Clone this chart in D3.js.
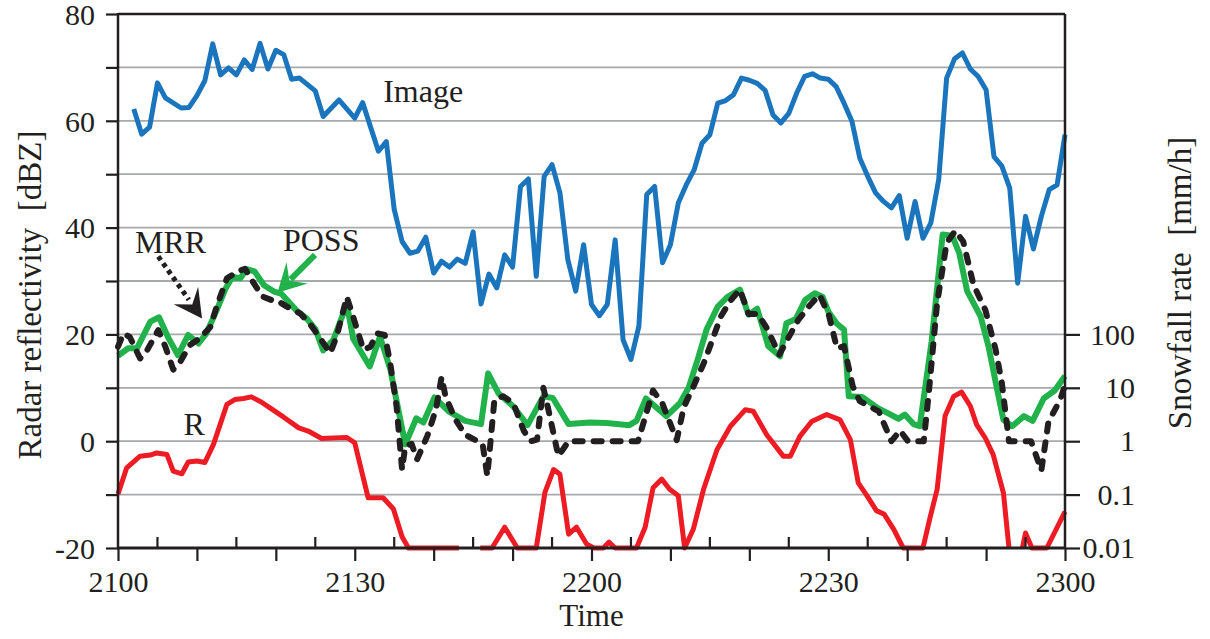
<!DOCTYPE html>
<html>
<head>
<meta charset="utf-8">
<script src="https://cdn.jsdelivr.net/npm/d3@7"></script>
<style>
  body { margin: 0; background: #fff; }
  svg { display: block; }
</style>
</head>
<body>
<svg width="1210" height="639"></svg>
<script>
// minutes after 21:00, dBZ
const imageData = [
  [2,62.2],[3,57.5],[4,58.8],[5,67.1],[6,64.3],[8,62.4],[9,62.5],[10,64.7],[11,67.5],[12,74.4],[13,68.6],[14,69.9],
  [15,68.6],[16,71.4],[17,69.6],[18,74.5],[19,69.7],[20,73.2],[21,72.4],[22,67.8],[23,68.0],[25,65.6],[26,60.8],
  [28,63.9],[30,60.5],[31,63.4],[33,54.3],[34,56.1],[35,43.4],[36,37.4],[37,35.2],[38,35.6],[39,38.2],[40,31.5],
  [41,33.7],[42,32.6],[43,34.1],[44,33.3],[45,39.2],[46,25.7],[47,31.3],[48,28.7],[49,34.9],[50,32.6],[51,47.7],
  [52,49.1],[53,30.9],[54,49.6],[55,51.8],[56,46.5],[57,34.0],[58,28.1],[59,36.8],[60,25.6],[61,23.5],[62,25.6],
  [63,37.7],[64,19.0],[65,15.3],[66,21.5],[67,46.2],[68,47.7],[69,33.4],[70,36.8],[71,44.6],[72,48.0],[73,50.8],
  [74,55.8],[75,57.4],[76,63.3],[77,63.8],[78,64.9],[79,68.0],[80,67.6],[81,67.0],[82,65.7],[83,61.1],[84,59.6],
  [85,61.4],[86,65.2],[87,68.3],[88,68.8],[89,68.0],[90,67.8],[91,66.4],[92,63.3],[93,59.9],[94,53.0],[95,49.6],
  [96,46.5],[97,44.9],[98,43.7],[99,46.0],[100,38.0],[101,44.9],[102,38.0],[103,40.9],[104,49.0],[105,68.0],
  [106,71.6],[107,72.7],[108,69.7],[109,68.3],[110,65.8],[111,53.3],[112,51.5],[113,47.4],[114,29.6],[115,42.1],
  [116,36.0],[117,42.1],[118,47.1],[119,48.0],[120,57.4]
];

const possData = [
  [0,16.0],[1.3,17.4],[2.4,17.4],[4.1,22.4],[5.2,23.2],[6.4,19.3],[7.6,16.1],[8.9,19.9],[10.2,18.3],[11.2,20.2],
  [12.5,24.5],[13.6,28.5],[14.5,30.8],[15.5,30.5],[16.3,32.2],[17.3,31.8],[18.5,29.2],[19.8,28.0],[20.7,27.6],
  [22.6,24.5],[23.9,23.0],[25.0,21.0],[26.0,17.0],[27.3,19.0],[29.0,25.7],[29.8,19.2],[31.9,14.0],[33.2,19.6],
  [34.5,13.5],[36.4,-0.6],[37.8,4.3],[38.7,3.5],[40.1,8.2],[41.9,5.6],[44.0,3.8],[46.0,3.2],[46.9,12.7],[48.2,9.0],
  [50.1,6.5],[51.9,3.0],[53.9,8.4],[55.1,8.1],[57.1,3.2],[59.8,3.5],[61.9,3.4],[64.8,3.0],[65.7,3.8],[66.9,8.0],
  [69.5,4.7],[71.2,7.1],[72.3,10.0],[73.5,15.5],[74.6,21.0],[76.0,25.2],[77.2,27.0],[78.8,28.4],[79.9,23.7],
  [81.0,24.8],[82.4,17.8],[83.9,15.9],[84.7,22.1],[85.9,22.9],[87.1,26.5],[88.3,27.7],[89.3,27.0],[90.0,24.3],
  [91.1,22.0],[92.0,20.9],[92.6,8.4],[94.3,8.3],[96.3,6.2],[97.6,5.2],[98.9,4.2],[99.7,5.0],[100.8,3.2],[101.6,2.8],
  [103.1,18.7],[104.5,38.7],[105.7,38.5],[106.6,35.2],[107.6,28.1],[109.3,23.4],[110.3,17.8],[111.4,9.7],
  [112.2,4.0],[113.3,2.8],[114.8,4.7],[115.9,3.8],[117.3,8.0],[118.7,9.5],[120,12.2]
];

const mrrData = [
  [0,17.7],[0.7,20.2],[1.5,19.5],[2.8,15.5],[3.6,16.8],[5.1,20.8],[6.0,17.7],[7.0,13.4],[7.9,14.9],[9.1,18.0],
  [10.4,19.3],[11.7,21.4],[12.5,25.2],[13.8,30.5],[15.2,31.8],[16.1,32.3],[17.2,29.6],[18.3,27.1],[19.5,26.4],
  [20.1,26.4],[21.4,25.2],[23.1,23.9],[24.3,22.0],[25.6,19.3],[26.9,16.5],[27.7,19.6],[29.0,27.0],[29.8,23.3],
  [31.1,17.1],[32.0,17.7],[32.8,20.2],[33.8,19.9],[34.5,14.6],[35.3,6.5],[36.0,-5.3],[36.4,-0.9],[37.2,-0.5],
  [37.9,-3.4],[39.2,1.0],[40.3,6.0],[41.0,12.0],[41.5,8.4],[42.7,4.2],[44.0,1.2],[46.2,-0.5],[46.8,-6.5],
  [47.7,7.8],[48.8,8.4],[50.1,7.1],[51.4,2.0],[52.3,0],[53.1,0.3],[53.9,10.0],[54.6,5.5],[55.8,-2.8],[57.1,0],
  [65.9,0],[67.8,9.5],[69.0,7.0],[70.8,0.2],[71.7,6.4],[72.9,10.2],[74.2,14.5],[75.2,18.5],[76.4,23.4],
  [77.6,26.3],[78.8,28.4],[79.9,23.8],[81.1,23.8],[82.2,21.2],[83.8,16.2],[84.7,18.7],[86.2,22.7],[87.7,25.5],
  [88.9,27.4],[90.1,23.5],[91.1,17.4],[92.0,17.8],[93.1,10.3],[94.0,7.5],[95.4,6.4],[96.4,5.6],[97.2,2.8],
  [98.0,0],[99.1,2.0],[100.1,0],[102.1,0],[102.7,8.4],[103.8,25.9],[105.0,37.1],[106.1,39.4],[107.1,37.4],
  [108.4,29.3],[109.9,24.6],[111.2,17.2],[112.0,10.9],[112.9,0],[115.7,0],[117.0,-5.5],[117.9,3.6],[119.4,7.8],
  [120,10.5]
];

// snowfall rate R, drawn on the dBZ scale (-20 = 0.01 mm/h); null = no data
const rData = [
  [0,-9.9],[1.1,-5.0],[2.8,-2.8],[4.1,-2.6],[4.9,-2.2],[6.2,-2.5],[7.0,-5.6],[8.1,-6.1],[8.9,-3.9],[10.0,-3.7],
  [11.0,-4.0],[12.1,-0.6],[13.8,6.9],[14.8,7.8],[15.9,8.0],[16.9,8.3],[18.2,7.3],[19.3,6.2],[21.0,4.5],[22.9,2.5],
  [24.1,1.9],[25.8,0.5],[27.3,0.6],[29.0,0.7],[30.0,-0.3],[31.7,-10.6],[33.6,-10.6],[34.9,-12.7],[36.0,-17.9],
  [36.8,-20],[43.2,-20],[44.5,null],[45.9,-20],[47.4,-20],[49.0,-16.1],[50.6,-20],[53.0,-20],[54.1,-9.6],
  [55.2,-5.3],[56.0,-6.2],[57.1,-17.4],[58.1,-16.1],[59.4,-19.3],[60.3,-20],[61.5,-20],[62.2,-18.9],[63.0,-20],
  [65.7,-20],[66.8,-16.1],[67.8,-8.7],[68.9,-7.1],[69.9,-9.0],[71.0,-10.2],[71.8,-20],[72.9,-16.5],[74.2,-9.0],
  [75.9,-1.6],[77.6,2.8],[79.5,5.9],[80.5,5.6],[82.2,1.2],[84.3,-2.8],[85.2,-2.8],[86.4,0.9],[87.9,3.7],
  [89.8,5.0],[91.5,4.0],[92.8,0.3],[93.8,-7.8],[94.9,-10.2],[96.1,-13.0],[97.1,-13.7],[98.3,-16.5],[99.5,-20],
  [102.0,-20],[102.9,-14.3],[103.8,-9.0],[104.8,4.7],[105.9,8.4],[106.9,9.2],[108.0,6.6],[108.8,3.1],[109.9,0.6],
  [110.9,-2.5],[112.2,-9.7],[112.9,-20],[113.8,null],[114.6,-20],[115.0,-17.2],[115.8,-20],[117.7,-20],[120,-13.2]
];

const xTickValues = [0, 30, 60, 90, 120];
const xTickLabels = ["2100", "2130", "2200", "2230", "2300"];
const leftTickLabels = [80, 60, 40, 20, 0, -20];
const rightTickValues = [100, 10, 1, 0.1, 0.01];
const rightTickLabels = ["100", "10", "1", "0.1", "0.01"];

const LEFT = 118, RIGHT = 1065, TOP = 14, BOTTOM = 548;
const INK = "#231f20";
const FONT = '"Liberation Serif", "Times New Roman", Times, serif';

const svg = d3.select("svg");
svg.append("rect").attr("width", 1210).attr("height", 639).attr("fill", "#fff");

const x = d3.scaleLinear().domain([0, 120]).range([LEFT, RIGHT]);
const y = d3.scaleLinear().domain([-20, 80]).range([BOTTOM, TOP]);
const yRate = d3.scaleLog().domain([0.01, 100]).range([y(-20), y(20)]);

// gridlines
svg.append("g")
  .selectAll("line")
  .data(d3.range(-10, 80, 10))
  .join("line")
  .attr("x1", LEFT).attr("x2", RIGHT)
  .attr("y1", d => y(d)).attr("y2", d => y(d))
  .attr("stroke", "#a7a9ac")
  .attr("stroke-width", 1.8);

const line = d3.line()
  .defined(d => d[1] !== null)
  .x(d => x(d[0]))
  .y(d => y(d[1]));

function drawSeries(data, color, width, dash) {
  const p = svg.append("path")
    .datum(data)
    .attr("d", line)
    .attr("fill", "none")
    .attr("stroke", color)
    .attr("stroke-width", width)
    .attr("stroke-linejoin", "round");
  if (dash) {
    p.attr("stroke-dasharray", dash).attr("stroke-linecap", "round");
  }
}

drawSeries(imageData, "#1b75bc", 5);
drawSeries(rData, "#ed1c24", 5);
drawSeries(possData, "#22b24c", 6);
drawSeries(mrrData, INK, 6, "8,11");

function styleAxis(g) {
  g.select(".domain").remove();
  g.attr("font-family", FONT);
  g.selectAll("line").attr("stroke", INK).attr("stroke-width", 2.2);
  g.selectAll("text")
    .style("font-family", FONT)
    .style("font-size", "30px")
    .attr("fill", INK);
}

// left axis
const leftAxis = d3.axisLeft(y)
  .tickValues(d3.range(-20, 81, 10))
  .tickSize(12)
  .tickPadding(11)
  .tickFormat(d => (leftTickLabels.includes(d) ? String(d) : ""));
const gl = svg.append("g").attr("transform", `translate(${LEFT},0)`).call(leftAxis);
styleAxis(gl);
gl.selectAll("text").attr("dy", "0.34em");

// right axis (snowfall rate)
const rightAxis = d3.axisRight(yRate)
  .tickValues(rightTickValues)
  .tickSize(15)
  .tickFormat((d, i) => rightTickLabels[i]);
const gr = svg.append("g").attr("transform", `translate(${RIGHT},0)`).call(rightAxis);
styleAxis(gr);
gr.selectAll("text").attr("text-anchor", "end").attr("x", 70);

// bottom axis
const bottomAxis = d3.axisBottom(x)
  .tickValues(d3.range(0, 121, 10))
  .tickSize(13)
  .tickPadding(10)
  .tickFormat(d => {
    const i = xTickValues.indexOf(d);
    return i >= 0 ? xTickLabels[i] : "";
  });
const gb = svg.append("g").attr("transform", `translate(0,${BOTTOM})`).call(bottomAxis);
styleAxis(gb);

// inner ticks at 5-minute offsets
svg.append("g")
  .selectAll("line")
  .data(d3.range(5, 120, 10))
  .join("line")
  .attr("x1", d => x(d)).attr("x2", d => x(d))
  .attr("y1", BOTTOM).attr("y2", BOTTOM - 11)
  .attr("stroke", INK)
  .attr("stroke-width", 2.2);

// frame
svg.append("line").attr("x1", LEFT).attr("x2", RIGHT).attr("y1", TOP).attr("y2", TOP)
  .attr("stroke", INK).attr("stroke-width", 2.5);
svg.append("line").attr("x1", RIGHT).attr("x2", RIGHT).attr("y1", TOP).attr("y2", BOTTOM)
  .attr("stroke", INK).attr("stroke-width", 2.5);
svg.append("line").attr("x1", LEFT).attr("x2", LEFT).attr("y1", TOP - 1).attr("y2", BOTTOM + 1)
  .attr("stroke", INK).attr("stroke-width", 2.5);
svg.append("line").attr("x1", LEFT - 1).attr("x2", RIGHT + 1).attr("y1", BOTTOM).attr("y2", BOTTOM)
  .attr("stroke", INK).attr("stroke-width", 3);

function addText(sel, size) {
  return sel.style("font-family", FONT).style("font-size", size).attr("fill", INK);
}

// axis titles
addText(svg.append("text"), "33px")
  .attr("transform", `translate(30,${(TOP + BOTTOM) / 2 + 14}) rotate(-90)`)
  .attr("text-anchor", "middle")
  .attr("dominant-baseline", "central")
  .text("Radar reflectivity\u00a0\u00a0[dBZ]");

addText(svg.append("text"), "33px")
  .attr("transform", `translate(1180,${(TOP + BOTTOM) / 2 + 2}) rotate(-90)`)
  .attr("text-anchor", "middle")
  .attr("dominant-baseline", "central")
  .text("Snowfall rate\u00a0\u00a0[mm/h]");

addText(svg.append("text"), "31px")
  .attr("x", (LEFT + RIGHT) / 2)
  .attr("y", 626)
  .attr("text-anchor", "middle")
  .text("Time");

// series labels
const labelFont = "32px";
addText(svg.append("text"), labelFont).attr("x", x(33.6)).attr("y", y(63.6)).text("Image");
addText(svg.append("text"), labelFont).attr("x", x(2.15)).attr("y", y(35.2)).text("MRR");
addText(svg.append("text"), labelFont).attr("x", x(20.9)).attr("y", y(35.6)).text("POSS");
addText(svg.append("text"), labelFont).attr("x", x(8.3)).attr("y", y(1.2)).text("R");

// notched arrow head pointing at tip, coming from tail
function arrowHead(tip, tail, color) {
  const dx = tip[0] - tail[0], dy = tip[1] - tail[1];
  const len = Math.hypot(dx, dy);
  const ux = dx / len, uy = dy / len;
  const px = -uy, py = ux;
  const L = 28, W = 15, N = 17;
  const pts = [
    [tip[0], tip[1]],
    [tip[0] - ux * L + px * W, tip[1] - uy * L + py * W],
    [tip[0] - ux * N, tip[1] - uy * N],
    [tip[0] - ux * L - px * W, tip[1] - uy * L - py * W]
  ];
  svg.append("path")
    .attr("d", "M" + pts.map(p => p.join(",")).join("L") + "Z")
    .attr("fill", color);
}

// MRR pointer (dotted)
const mrrTail = [x(5.1), y(34.6)];
const mrrTip = [x(10.65), y(23.0)];
const mrrNeck = [mrrTip[0] - (mrrTip[0] - mrrTail[0]) * 0.3, mrrTip[1] - (mrrTip[1] - mrrTail[1]) * 0.3];
svg.append("line")
  .attr("x1", mrrTail[0]).attr("y1", mrrTail[1])
  .attr("x2", mrrNeck[0]).attr("y2", mrrNeck[1])
  .attr("stroke", INK).attr("stroke-width", 5)
  .attr("stroke-dasharray", "4.5,4");
arrowHead(mrrTip, mrrTail, INK);

// POSS pointer (solid green)
const possTail = [x(24.97), y(34.9)];
const possTip = [x(20.2), y(27.8)];
const possNeck = [possTip[0] - (possTip[0] - possTail[0]) * 0.35, possTip[1] - (possTip[1] - possTail[1]) * 0.35];
svg.append("line")
  .attr("x1", possTail[0]).attr("y1", possTail[1])
  .attr("x2", possNeck[0]).attr("y2", possNeck[1])
  .attr("stroke", "#22b24c").attr("stroke-width", 6);
arrowHead(possTip, possTail, "#22b24c");
</script>
</body>
</html>
